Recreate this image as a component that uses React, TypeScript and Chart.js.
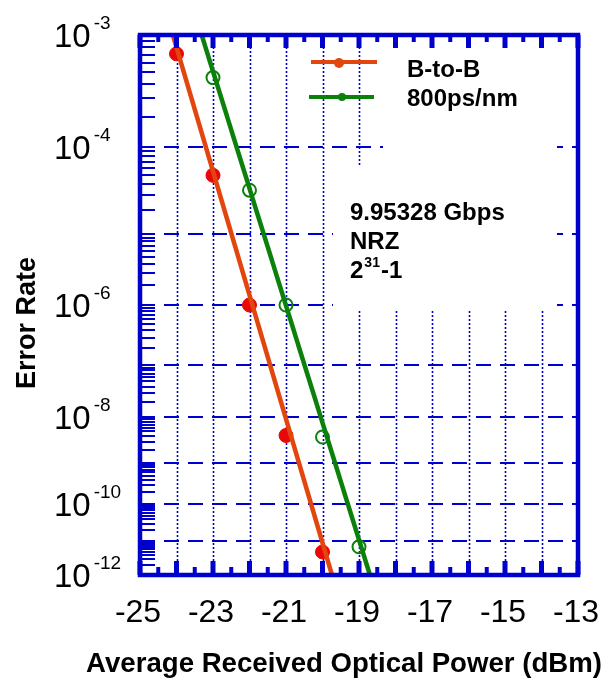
import React, { useEffect, useRef } from "react";
import { Chart, registerables } from "chart.js";

Chart.register(...registerables);

// ---------- data ----------
const seriesNames = ["B-to-B", "800ps/nm"];
const powerBtoB = [-24, -23, -22, -21, -20];
const berBtoB = [7.1e-4, 5.0e-5, 1.0e-6, 4.1e-9, 4.9e-12];
const power800 = [-23, -22, -21, -20, -19];
const ber800 = [4.5e-4, 3.4e-5, 1.0e-6, 3.8e-9, 6.9e-12];
const fitPowerBtoB = [-24.1, -19.74];
const fitBerBtoB = [1e-3, 1e-12];
const fitPower800 = [-23.31, -18.7];
const fitBer800 = [1e-3, 1e-12];
const xTickLabels = [-25, -23, -21, -19, -17, -15, -13];
const yLabelExponents = [-3, -4, -6, -8, -10, -12];
const gridExponents = [-4, -5, -6, -7, -8, -9, -10, -11];
const annotationLines = ["9.95328 Gbps", "NRZ"];
const prbsBase = "2";
const prbsExp = "31";
const prbsTail = "-1";
const xTitle = "Average Received Optical Power (dBm)";
const yTitle = "Error Rate";

const X_MIN = -25;
const X_MAX = -13;
const BER_TOP = 1e-3;
const BER_BOTTOM = 1e-12;

// log(-log(BER)) scale
const q = (ber: number) => Math.log10(-Math.log10(ber));

const BLUE = "#0000CD";
const RED_LINE = "#E2460E";
const RED_MARK = "#E80808";
const GREEN = "#0B800B";
const FONT = "'Liberation Sans', Arial, Helvetica, sans-serif";

const toPts = (xs: number[], bers: number[]) => xs.map((x, i) => ({ x, y: q(bers[i]) }));

const gridPlugin = {
  id: "customGrid",
  beforeDatasetsDraw(chart: any) {
    const { ctx, chartArea: a, scales } = chart;
    const xs = scales.x;
    const ys = scales.y;
    ctx.save();
    ctx.strokeStyle = BLUE;
    // vertical dotted grid
    ctx.lineWidth = 1.6;
    ctx.setLineDash([2, 2]);
    for (let v = X_MIN + 1; v < X_MAX; v++) {
      const px = Math.round(xs.getPixelForValue(v)) + 0.5;
      ctx.beginPath();
      ctx.moveTo(px, a.top);
      ctx.lineTo(px, a.bottom);
      ctx.stroke();
    }
    // horizontal dashed grid
    ctx.lineWidth = 2;
    ctx.setLineDash([15, 9]);
    for (const e of gridExponents) {
      const py = Math.round(ys.getPixelForValue(q(Math.pow(10, e))));
      ctx.beginPath();
      ctx.moveTo(a.left, py);
      ctx.lineTo(a.right, py);
      ctx.stroke();
    }
    ctx.setLineDash([]);
    // white backgrounds behind legend and annotation
    ctx.fillStyle = "#ffffff";
    ctx.fillRect(383, a.top + 3, 557 - 383, 165 - a.top - 3);
    ctx.fillRect(333, 165, 557 - 333, 311 - 165);
    ctx.restore();
  },
  afterDraw(chart: any) {
    const { ctx, chartArea: a, scales } = chart;
    const xs = scales.x;
    const ys = scales.y;
    ctx.save();
    ctx.strokeStyle = BLUE;
    ctx.setLineDash([]);

    // left axis minor ticks
    ctx.lineWidth = 2;
    for (let n = 3; n <= 11; n++) {
      for (let k = 1; k <= 9; k++) {
        const ber = k * Math.pow(10, -(n + 1));
        const py = Math.round(ys.getPixelForValue(q(ber)));
        ctx.beginPath();
        ctx.moveTo(a.left, py);
        ctx.lineTo(a.left + 15, py);
        ctx.stroke();
      }
    }

    // top & bottom ticks
    for (let v = X_MIN; v <= X_MAX + 0.001; v += 0.5) {
      const major = Math.abs(v - Math.round(v)) < 0.01;
      const px = xs.getPixelForValue(v);
      ctx.lineWidth = major ? 5 : 4;
      const lenTop = major ? 13 : 7;
      const lenBot = major ? 14 : 8;
      ctx.beginPath();
      ctx.moveTo(px, a.top);
      ctx.lineTo(px, a.top + lenTop);
      ctx.moveTo(px, a.bottom);
      ctx.lineTo(px, a.bottom - lenBot);
      ctx.stroke();
    }

    // frame
    ctx.lineWidth = 4.5;
    ctx.strokeRect(a.left, a.top, a.right - a.left, a.bottom - a.top);

    // y tick labels
    ctx.fillStyle = "#000";
    ctx.textAlign = "left";
    ctx.textBaseline = "alphabetic";
    for (const e of yLabelExponents) {
      const py = ys.getPixelForValue(q(Math.pow(10, e)));
      ctx.font = `33px ${FONT}`;
      ctx.fillText("10", 54, py + 12);
      const w = ctx.measureText("10").width;
      ctx.font = `19px ${FONT}`;
      ctx.fillText(String(e), 54 + w + 3, py - 6);
    }

    // x tick labels
    ctx.font = `32px ${FONT}`;
    ctx.textAlign = "center";
    for (const v of xTickLabels) {
      const px = xs.getPixelForValue(v);
      ctx.fillText(String(v), px - 2, 622);
    }

    // titles
    ctx.font = `bold 27.6px ${FONT}`;
    ctx.fillText(xTitle, 344, 672);
    ctx.font = `bold 27px ${FONT}`;
    ctx.save();
    ctx.translate(35, 323);
    ctx.rotate(-Math.PI / 2);
    ctx.fillText(yTitle, 0, 0);
    ctx.restore();

    // legend
    ctx.lineCap = "butt";
    ctx.lineWidth = 4;
    ctx.strokeStyle = RED_LINE;
    ctx.beginPath();
    ctx.moveTo(311, 62);
    ctx.lineTo(377, 62);
    ctx.stroke();
    ctx.fillStyle = RED_LINE;
    ctx.beginPath();
    ctx.arc(339, 63, 5, 0, Math.PI * 2);
    ctx.fill();
    ctx.strokeStyle = GREEN;
    ctx.beginPath();
    ctx.moveTo(309, 97);
    ctx.lineTo(374, 97);
    ctx.stroke();
    ctx.fillStyle = GREEN;
    ctx.beginPath();
    ctx.arc(342, 97, 4, 0, Math.PI * 2);
    ctx.fill();

    ctx.fillStyle = "#000";
    ctx.textAlign = "left";
    ctx.font = `bold 24px ${FONT}`;
    ctx.fillText(seriesNames[0], 407, 77);
    ctx.fillText(seriesNames[1], 407, 106);

    // annotation
    ctx.fillText(annotationLines[0], 350, 220);
    ctx.fillText(annotationLines[1], 350, 249);
    ctx.fillText(prbsBase, 350, 278);
    const wb = ctx.measureText(prbsBase).width;
    ctx.font = `bold 14px ${FONT}`;
    ctx.fillText(prbsExp, 350 + wb + 1, 267);
    const we = ctx.measureText(prbsExp).width;
    ctx.font = `bold 24px ${FONT}`;
    ctx.fillText(prbsTail, 350 + wb + 1 + we + 1, 278);

    ctx.restore();
  },
};

export default function App() {
  const ref = useRef<HTMLCanvasElement>(null);

  useEffect(() => {
    if (!ref.current) return;
    const chart = new Chart(ref.current, {
      type: "scatter",
      data: {
        datasets: [
          {
            label: seriesNames[0] + " fit",
            data: toPts(fitPowerBtoB, fitBerBtoB),
            showLine: true,
            borderColor: RED_LINE,
            borderWidth: 4.5,
            pointRadius: 0,
            order: 1,
          },
          {
            label: seriesNames[1] + " fit",
            data: toPts(fitPower800, fitBer800),
            showLine: true,
            borderColor: GREEN,
            borderWidth: 4.5,
            pointRadius: 0,
            order: 1,
          },
          {
            label: seriesNames[0],
            data: toPts(powerBtoB, berBtoB),
            showLine: false,
            pointStyle: "circle",
            pointRadius: 7,
            backgroundColor: RED_MARK,
            borderColor: RED_MARK,
            borderWidth: 1,
            order: 2,
          },
          {
            label: seriesNames[1],
            data: toPts(power800, ber800),
            showLine: false,
            pointStyle: "circle",
            pointRadius: 6.5,
            backgroundColor: "rgba(0,0,0,0)",
            borderColor: GREEN,
            borderWidth: 2,
            order: 2,
          },
        ],
      },
      options: {
        responsive: false,
        animation: false,
        events: [],
        layout: { padding: { left: 140, top: 35, right: 28, bottom: 108 } },
        plugins: { legend: { display: false }, tooltip: { enabled: false } },
        scales: {
          x: { type: "linear", min: X_MIN, max: X_MAX, display: false },
          y: { type: "linear", min: q(BER_TOP), max: q(BER_BOTTOM), reverse: true, display: false },
        },
      },
      plugins: [gridPlugin],
    });
    return () => chart.destroy();
  }, []);

  return (
    <div style={{ position: "absolute", left: 0, top: 0, width: 606, height: 683, background: "#fff" }}>
      <canvas ref={ref} width={606} height={683} style={{ display: "block" }} />
    </div>
  );
}
